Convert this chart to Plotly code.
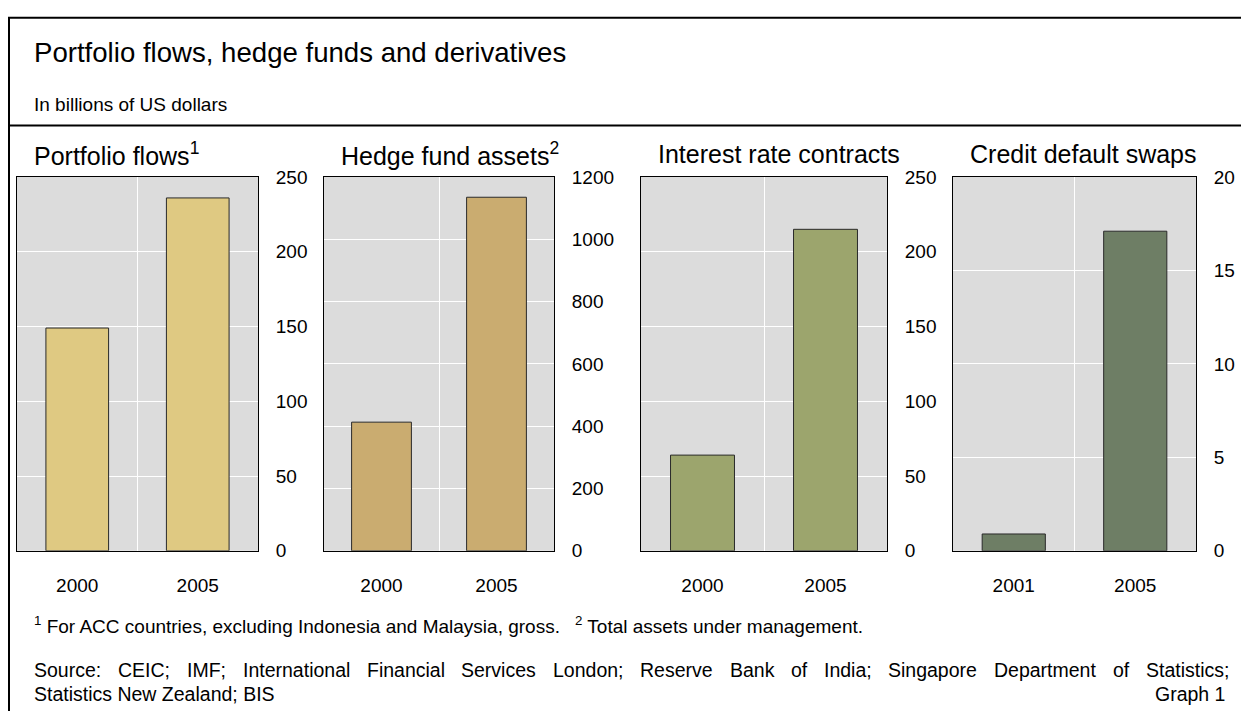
import plotly.graph_objects as go

W, H = 1241, 722

titles = ["Portfolio flows<sup>1</sup>", "Hedge fund assets<sup>2</sup>",
          "Interest rate contracts", "Credit default swaps"]
years = [["2000", "2005"], ["2000", "2005"], ["2000", "2005"], ["2001", "2005"]]
values = [[149, 236], [413, 1135], [64, 215], [0.9, 17.1]]
y_max = [250, 1200, 250, 20]
y_ticks = [[0, 50, 100, 150, 200, 250],
           [0, 200, 400, 600, 800, 1000, 1200],
           [0, 50, 100, 150, 200, 250],
           [0, 5, 10, 15, 20]]
colors = ["#dfc982", "#caac70", "#9ca56d", "#6e7e65"]

source_line1 = ("Source: CEIC; IMF; International Financial Services London; "
                "Reserve Bank of India; Singapore Department of Statistics;")
source_line2 = "Statistics New Zealand; BIS"
footnote1 = "<sup>1</sup> For ACC countries, excluding Indonesia and Malaysia, gross."
footnote2 = "<sup>2</sup> Total assets under management."

# pixel layout
panel_x = [(17, 258), (324, 554), (641, 887), (953, 1196)]
top_px, bot_px = 172, 557

FONT = "Liberation Sans, Arial, sans-serif"
TICK = 19
NOTE = 19
SRC = 19.5

# Arial / Liberation Sans advance widths (per 1000 em) for justification
AW = {" ": 278, ":": 278, ";": 278, ",": 278, ".": 278}
AW.update(dict(zip("ABCDEFGHIJKLMNOPQRSTUVWXYZ",
                   [667, 667, 722, 722, 667, 611, 778, 722, 278, 500, 667, 556, 833,
                    722, 778, 667, 778, 722, 667, 611, 722, 667, 944, 667, 667, 611])))
AW.update(dict(zip("abcdefghijklmnopqrstuvwxyz",
                   [556, 556, 500, 556, 556, 278, 556, 556, 222, 222, 500, 222, 833,
                    556, 556, 556, 556, 333, 500, 278, 556, 500, 722, 500, 500, 500])))


def tw(s, size):
    return sum(AW.get(c, 556) for c in s) * size / 1000.0


fig = go.Figure()
layout = dict(
    width=W, height=H, margin=dict(l=0, r=0, t=0, b=0),
    paper_bgcolor="white", plot_bgcolor="#dcdcdc",
    showlegend=False, font=dict(family=FONT, color="black"),
)
ydom = [1 - bot_px / H, 1 - top_px / H]
annotations = []
for i in range(4):
    n = "" if i == 0 else str(i + 1)
    fig.add_trace(go.Bar(
        x=years[i], y=values[i], xaxis="x" + n, yaxis="y" + n,
        marker=dict(color=colors[i], line=dict(color="#2a2a2a", width=1)),
        width=0.52, hoverinfo="skip",
    ))
    x0, x1 = panel_x[i]
    layout["xaxis" + n] = dict(
        domain=[x0 / W, x1 / W], anchor="y" + n, type="category",
        tickson="boundaries", showgrid=True, gridcolor="white", gridwidth=1,
        ticks="", showline=True, linecolor="black", linewidth=1, mirror=True,
        tickfont=dict(size=TICK, family=FONT), ticklabelstandoff=17,
        range=[-0.5, 1.5], fixedrange=True, zeroline=False,
    )
    layout["yaxis" + n] = dict(
        domain=ydom, anchor="x" + n, side="right", range=[0, y_max[i]],
        tickvals=y_ticks[i], showgrid=True, gridcolor="white", gridwidth=1,
        ticks="", showline=True, linecolor="black", linewidth=1, mirror=True,
        tickfont=dict(size=TICK, family=FONT), ticklabelstandoff=13,
        zeroline=False, fixedrange=True,
    )
    annotations.append(dict(
        text=titles[i], xref="paper", yref="paper",
        x=(x0 + 15) / W, y=1 - 148 / H, xanchor="left", yanchor="middle",
        showarrow=False, font=dict(size=25, family=FONT),
    ))


def txt(text, x, y, size, anchor="left"):
    return dict(text=text, xref="paper", yref="paper", x=x / W, y=1 - y / H,
                xanchor=anchor, yanchor="middle", showarrow=False,
                font=dict(size=size, family=FONT))


annotations += [
    txt("Portfolio flows, hedge funds and derivatives", 32, 44, 27.6),
    txt("In billions of US dollars", 32, 97, 19),
    txt(footnote1, 32, 633, NOTE),
    txt(footnote2, 573, 633, NOTE),
    txt(source_line2, 32, 704, SRC),
    txt("Graph 1", 1227, 704, SRC, "right"),
]

# justified first source line
words = source_line1.split(" ")
left, right = 32, 1227
total = sum(tw(w, SRC) for w in words)
gap = (right - left - total) / (len(words) - 1)
xpos = left
for w in words:
    annotations.append(txt(w, xpos, 680, SRC))
    xpos += tw(w, SRC) + gap

shapes = [
    dict(type="line", xref="paper", yref="paper", x0=9 / W, x1=9 / W, y0=0, y1=1 - 8 / H,
         line=dict(color="black", width=2)),
    dict(type="line", xref="paper", yref="paper", x0=8 / W, x1=1, y0=1 - 8 / H, y1=1 - 8 / H,
         line=dict(color="black", width=2)),
    dict(type="line", xref="paper", yref="paper", x0=8 / W, x1=1, y0=1 - 119 / H, y1=1 - 119 / H,
         line=dict(color="black", width=2)),
]
layout["annotations"] = annotations
layout["shapes"] = shapes
fig.update_layout(**layout)
fig.write_html("out.html", post_script="document.body.style.margin='0';")
